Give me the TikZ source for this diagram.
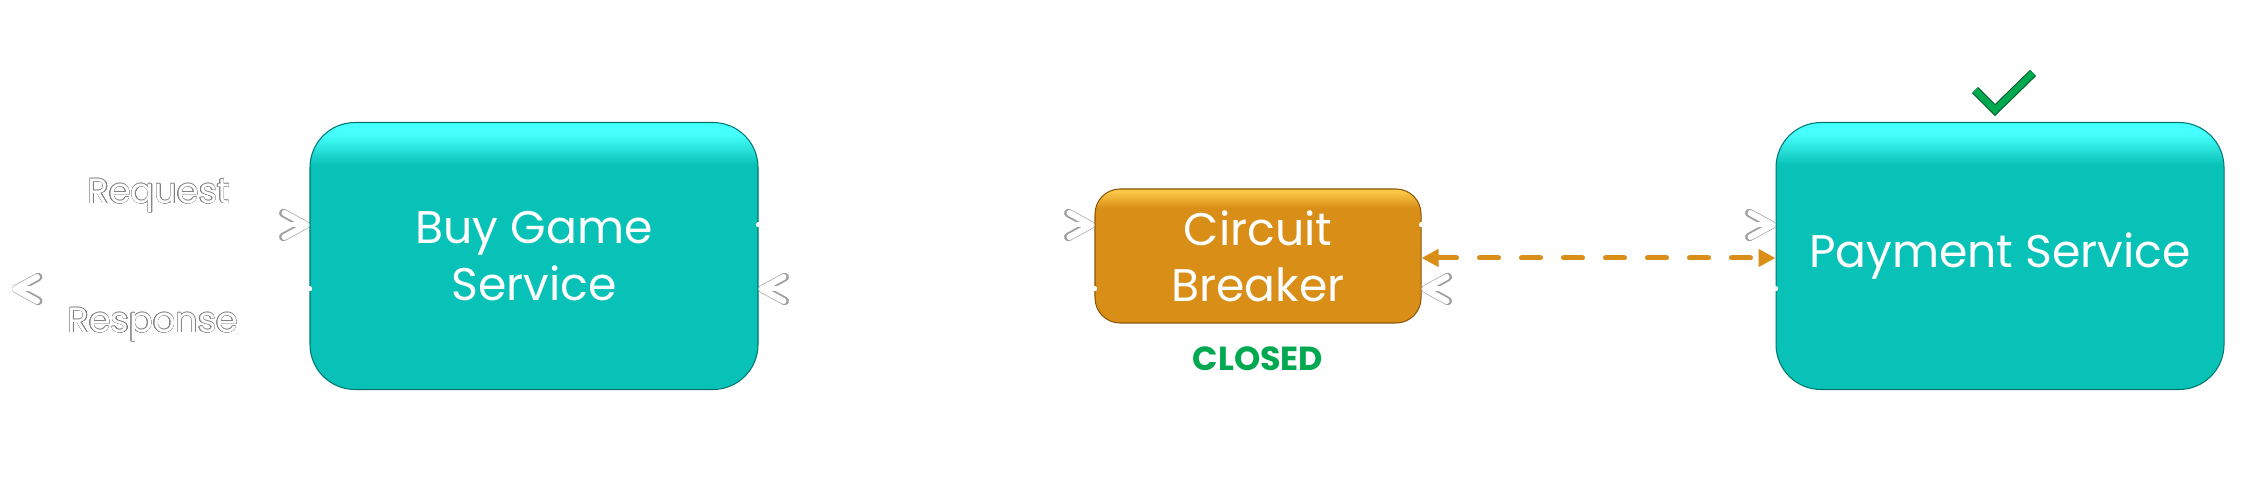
\documentclass[tikz,border=0pt]{standalone}
\usepackage{fontspec}
\setmainfont{Poppins}
\usepackage{contour}
\contourlength{0.13pt}
\contournumber{16}
\usetikzlibrary{arrows.meta,calc}

\definecolor{tealbox}{RGB}{8,194,184}
\definecolor{tealtop}{RGB}{70,255,252}
\definecolor{tealedge}{RGB}{0,120,112}
\definecolor{orangebox}{RGB}{217,142,24}
\definecolor{orangetop}{RGB}{250,200,70}
\definecolor{orangeedge}{RGB}{140,86,10}
\definecolor{okgreen}{RGB}{0,168,79}
\definecolor{okedge}{RGB}{0,90,40}

% visible range of a shading is 25bp..75bp
\pgfdeclareverticalshading{tealglow}{100bp}{color(0bp)=(tealbox); color(67bp)=(tealbox);
  color(72.8bp)=(tealtop); color(100bp)=(tealtop)}
\pgfdeclareverticalshading{orangeglow}{100bp}{color(0bp)=(orangebox); color(68bp)=(orangebox);
  color(74bp)=(orangetop); color(100bp)=(orangetop)}

\tikzset{
  service/.style={rounded corners=0.45cm, shade, shading=tealglow, draw=tealedge, line width=0.3pt,
    minimum width=4.48cm, minimum height=2.67cm, text=white, align=center,
    font=\fontsize{13}{16}\selectfont},
  breaker/.style={rounded corners=0.25cm, shade, shading=orangeglow, draw=orangeedge, line width=0.3pt,
    minimum width=3.26cm, minimum height=1.34cm, text=white, align=center,
    font=\fontsize{13}{16}\selectfont},
  flow/.style={white, line width=0.05cm, line cap=round,
    -{Straight Barb[length=0.22cm, width=0.24cm, line width=0.085cm, round, gray!75]},
    postaction={draw=white, -{Straight Barb[length=0.22cm, width=0.24cm, line width=0.06cm, round, white]}}},
  link/.style={orangebox, line width=0.05cm, line cap=round, dash pattern=on 0.19cm off 0.23cm,
    {Triangle[length=0.17cm, width=0.17cm]}-{Triangle[length=0.17cm, width=0.17cm]}},
  flowlabel/.style={text=white, font=\fontsize{10}{12}\selectfont},
  state/.style={text=okgreen, font=\fontsize{9.5}{11}\selectfont\bfseries},
  tick/.style={draw=okedge, line width=0.3pt, double=okgreen, double distance=0.065cm}
}

\begin{document}
\begin{tikzpicture}

\useasboundingbox (0,0) rectangle (22.44,4.85);

% services
\node[service] (buy) at (5.34,2.29) {Buy Game\\Service};
\node[breaker] (cb) at (12.58,2.29) {Circuit\\Breaker};
\node[service] (pay) at (20.00,2.29) {Payment Service};

\node[state] (closed) at ($(cb.south)+(0,-0.35)$) {CLOSED};
\draw[tick] ($(pay.north)+(-0.25,0.32)$) -- ($(pay.north)+(-0.05,0.12)$) -- ($(pay.north)+(0.33,0.49)$);

% client side
\coordinate (src) at (0.10,2.60);
\coordinate (dst) at (0.12,1.96);
\node[flowlabel] (req) at (1.59,2.89) {\contour{gray}{Request}};
\node[flowlabel] (resp) at (1.53,1.60) {\contour{gray}{Response}};

\draw[flow] (src) -- (src -| buy.west);
\draw[flow] (dst -| buy.west) -- (dst);

% calls through the breaker
\draw[flow] ([yshift=0.31cm]buy.east) -- ([yshift=0.31cm]cb.west);
\draw[flow] ([yshift=-0.33cm]cb.west) -- ([yshift=-0.33cm]buy.east);
\draw[flow] ([yshift=0.31cm]cb.east) -- ([yshift=0.31cm]pay.west);
\draw[flow] ([yshift=-0.33cm]pay.west) -- ([yshift=-0.33cm]cb.east);
\draw[link] ([yshift=-0.02cm]cb.east) -- ([yshift=-0.02cm]pay.west);

\end{tikzpicture}
\end{document}
